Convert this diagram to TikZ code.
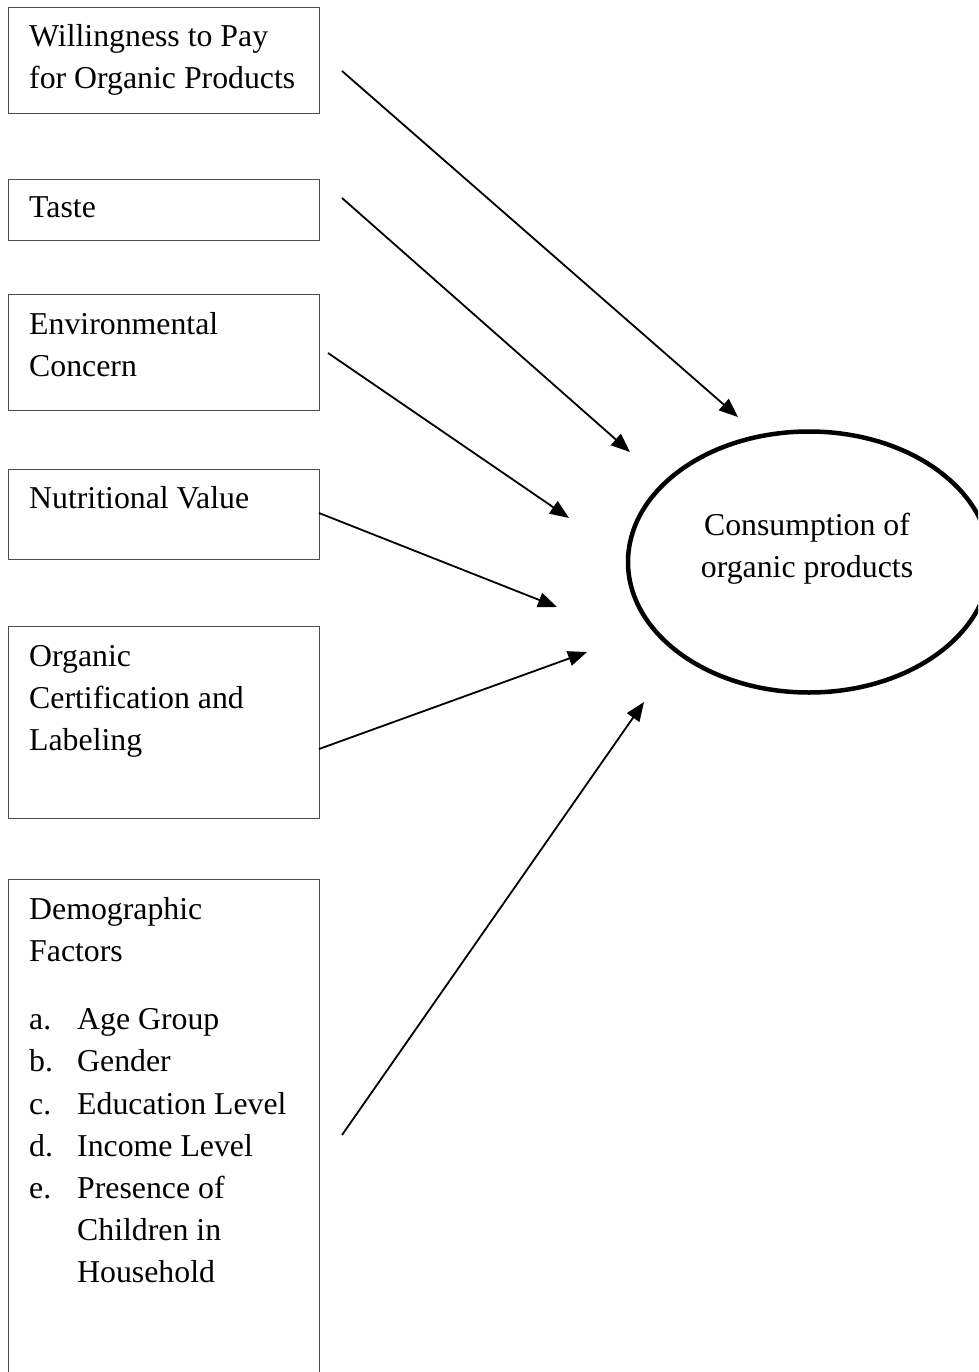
\documentclass[tikz,border=0pt]{standalone}
\usepackage{fontspec}
\setmainfont{Liberation Serif}
\usetikzlibrary{arrows.meta,shapes.geometric}
\begin{document}
\begin{tikzpicture}[x=1pt,y=-1pt,
  fbox/.style={draw=black!70,line width=1.3pt,anchor=north west,inner sep=0pt},
  lbl/.style={anchor=base west,inner sep=0pt,font=\fontsize{31.8}{42}\selectfont},
  clbl/.style={anchor=base,inner sep=0pt,font=\fontsize{31.8}{42}\selectfont},
  arr/.style={line width=1.8pt,-{Triangle[length=19pt,width=15pt]}},
  oval/.style={draw=black,line width=4.5pt,ellipse,inner sep=0pt,minimum width=362pt,minimum height=261pt}]
\useasboundingbox (0,0) rectangle (978,1372);
\fill[white] (0,0) rectangle (978,1372);
\begin{scope}
\clip (0,0) rectangle (978,1372);
% boxes
\node[fbox,minimum width=311pt,minimum height=106pt] (b1) at (8,7) {};
\node[fbox,minimum width=311pt,minimum height=61pt] (b2) at (8,179) {};
\node[fbox,minimum width=311pt,minimum height=116pt] (b3) at (8,294) {};
\node[fbox,minimum width=311pt,minimum height=90pt] (b4) at (8,469) {};
\node[fbox,minimum width=311pt,minimum height=192pt] (b5) at (8,626) {};
\node[fbox,minimum width=311pt,minimum height=520pt] (b6) at (8,879) {};
% texts
\node[lbl] (t1a) at (29,47) {Willingness to Pay};
\node[lbl] (t1b) at (29,89) {for Organic Products};
\node[lbl] (t2) at (29,218) {Taste};
\node[lbl] (t3a) at (29,334) {Environmental};
\node[lbl] (t3b) at (29,376) {Concern};
\node[lbl] (t4) at (29,508) {Nutritional Value};
\node[lbl] (t5a) at (29,666) {Organic};
\node[lbl] (t5b) at (29,708) {Certification and};
\node[lbl] (t5c) at (29,750) {Labeling};
\node[lbl] (t6a) at (29,919) {Demographic};
\node[lbl] (t6b) at (29,961) {Factors};
\node[lbl] (la) at (29,1029) {a.};
\node[lbl] (lb) at (29,1071) {b.};
\node[lbl] (lc) at (29,1114) {c.};
\node[lbl] (ld) at (29,1156) {d.};
\node[lbl] (le) at (29,1198) {e.};
\node[lbl] (ia) at (77,1029) {Age Group};
\node[lbl] (ib) at (77,1071) {Gender};
\node[lbl] (ic) at (77,1114) {Education Level};
\node[lbl] (id) at (77,1156) {Income Level};
\node[lbl] (ie) at (77,1198) {Presence of};
\node[lbl] (ief) at (77,1240) {Children in};
\node[lbl] (ieg) at (77,1282) {Household};
% ellipse
\node[oval] (c) at (809,562) {};
\node[clbl] (ct1) at (807,535) {Consumption of};
\node[clbl] (ct2) at (807,577) {organic products};
% arrow endpoints
\coordinate (s1) at (342,71);  \coordinate (e1) at (738,417);
\coordinate (s2) at (342,198); \coordinate (e2) at (630,452);
\coordinate (s3) at (328,353); \coordinate (e3) at (569,518);
\coordinate (s4) at (319,513); \coordinate (e4) at (557,607);
\coordinate (s5) at (319,749); \coordinate (e5) at (587,652);
\coordinate (s6) at (342,1135); \coordinate (e6) at (644,702);
\draw[arr] (s1) -- (e1);
\draw[arr] (s2) -- (e2);
\draw[arr] (s3) -- (e3);
\draw[arr] (s4) -- (e4);
\draw[arr] (s5) -- (e5);
\draw[arr] (s6) -- (e6);
\end{scope}
\end{tikzpicture}
\end{document}
